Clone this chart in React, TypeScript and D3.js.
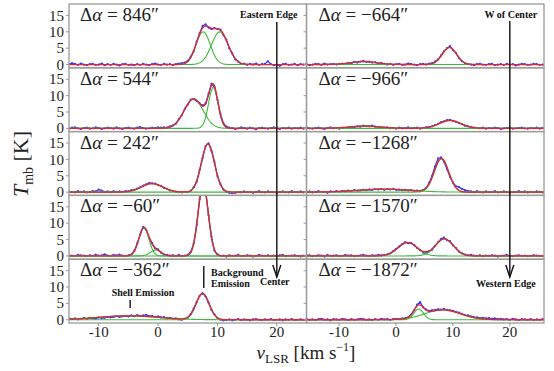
import React, { useEffect } from 'react'
import * as d3 from 'd3'

// channel grid of the observed spectra (km/s): left column, right column
const channelStart = [-15, -15.7]
const channelStep = [0.5, 0.525]
// x limits of the two columns (km/s)
const xLimits = [[-15, 25], [-15.7, 26]]

const offsets = ['846', '544', '242', '\u221260', '\u2212362', '\u2212664', '\u2212966', '\u22121268', '\u22121570', '\u22121872']

const obs846 = [0.1, 0.4, 0.2, -0.1, 0.3, 0.0, -0.2, 0.1, 0.2, -0.1, 0.0, 0.3, -0.2, 0.1, -0.1, 0.2, 0.0, -0.3, 0.1, 0.2, -0.1, 0.0, -0.2, 0.1, -0.1, 0.2, 0.0, -0.2, 0.1, 0.3, 0.0, -0.1, 0.2, 0.0, 0.1, -0.2, 0.1, 0.3,
  0.4, 0.6, 1.1, 2.4, 4.0, 7.0, 9.6, 11.8, 12.3, 11.3, 10.8, 11.1, 10.9, 10.7, 9.0, 7.6, 5.0, 3.4, 1.6, 0.9, 0.2, 0.3,
  -0.1, 0.2, 0.0, 0.3, -0.1, 0.1, 0.2, 1.0, 0.1, -0.2, 0.0, -0.4, 0.1, 0.2, -0.1, 0.0, 0.2, -0.2, 0.1, 0.0, 0.1]
const obs544 = [-0.1, 0.2, 0.3, 0.0, -0.2, 0.1, 0.2, -0.1, 0.0, 0.3, 0.1, -0.2, 0.0, 0.2, 0.1, -0.1, 0.3, 0.0, -0.2, 0.1, 0.2, 0.0, -0.1, 0.2, 0.4, 0.1, -0.1, 0.0, 0.2, 0.1, 0.3, 0.2,
  0.3, 0.2, 0.6, 0.9, 1.4, 2.8, 4.0, 6.0, 7.2, 8.8, 8.9, 8.4, 7.6, 7.0, 7.6, 10.5, 13.6, 12.7, 8.7, 4.5, 1.6, 0.5, 0.2,
  0.1, -0.2, 0.0, 0.3, 0.1, -0.1, 0.2, 0.0, -0.3, 0.1, 0.2, 0.0, -0.1, 0.1, 0.3, 0.0, -0.2, 0.1, 0.0, 0.2, -0.1, 0.1, 0.0, 0.2, -0.1, 0.1]
const obs242 = [0.2, 0.0, -0.1, 0.3, 0.1, 0.2, -0.1, 0.0, 0.3, 0.2, 0.8, 0.5, 0.1, 0.2, 0.0, 0.3, 0.1, 0.2,
  0.1, 0.3, 0.2, 0.6, 0.7, 1.1, 1.5, 2.0, 2.4, 2.8, 2.7, 2.6, 2.1, 1.9, 1.3, 1.0, 0.5, 0.4, 0.1, 0.0, -0.1,
  0.1, 0.0, 0.4, 1.5, 3.2, 6.8, 10.4, 14.1, 14.9, 12.6, 9.2, 4.9, 2.5, 0.8, 0.1, -0.2,
  -0.3, -0.2, 0.0, -0.1, 0.2, 0.0, 0.1, -0.2, 0.1, 0.3, 0.0, -0.1, 0.2, 0.1, 0.0, -0.2, 0.1, 0.2, 0.0, -0.1, 0.3, 0.1, 0.0, 0.2, -0.1, 0.1]
const obsM60 = [0.2, 0.1, 0.0, 0.3, 0.2, 0.1, -0.1, 0.2, 0.0, 0.4, 0.1, 0.2, 0.5, 0.1, 0.0, 0.3, 0.2, 0.4, 0.1, 0.0,
  0.2, 0.5, 1.6, 3.9, 6.5, 8.8, 7.9, 5.5, 3.9, 2.3, 2.0, 1.0, 0.4, 0.3, 0.1,
  0.2, 0.0, 0.3, -0.1, 0.1,
  0.3, 1.2, 3.8, 9.4, 17.4, 21.6, 19.9, 12.4, 5.9, 1.6, 0.5, 0.0,
  0.1, -0.2, 0.2, 0.0, 0.1, 0.3, -0.1, 0.0, 0.2, 0.1, -0.2, 0.0, 0.3, 0.1, 0.0, 0.2, -0.1, 0.1, 0.0, 0.2, 0.3, -0.1, 0.0, 0.1, 0.2, 0.0, -0.2, 0.1, 0.0]
const obsM362 = [0.5, 0.2, 0.4, 0.1, 0.3, 0.5, 0.2, 0.6, 0.4, 0.3, 0.7, 0.5, 0.6, 0.9, 0.7, 0.8, 1.1, 0.8, 1.0, 1.2, 1.0, 1.3, 1.1, 1.4, 1.2, 1.3, 1.5, 1.1, 1.2, 0.9, 1.0, 0.7, 0.8, 0.5, 0.6, 0.3, 0.4, 0.1,
  0.0, 0.3, 0.6, 1.7, 3.4, 5.4, 7.3, 8.1, 7.1, 5.2, 3.0, 1.6, 0.5, 0.0, -0.2,
  -0.1, 0.1, -0.2, 0.0, 0.2, -0.1, 0.1, 0.0, -0.2, 0.1, 0.2, 0.0, -0.1, 0.1, 0.0, 0.2, -0.1, 0.0, 0.1, -0.2, 0.1, 0.0, 0.2, -0.1, 0.0, 0.1, 0.0, 0.1]
const obsM664 = [0.1, -0.2, 0.0, 0.2, 0.1, -0.1, 0.3, 0.0, 0.1, 0.2,
  0.0, 0.2, 0.3, 0.1, 0.5, 0.4, 0.8, 0.6, 0.9, 1.1, 0.8, 0.9, 0.6, 0.7, 0.3, 0.5, 0.2, 0.0, 0.2, -0.1,
  0.1, 0.2, -0.1, 0.0, 0.3, 0.1, 0.0, -0.2, 0.1, 0.2, 0.0, 0.3,
  0.4, 0.9, 1.6, 2.8, 4.1, 5.0, 5.6, 4.4, 3.5, 2.0, 1.0, 0.4, 0.1, 0.0,
  -0.2, 0.1, 0.2, 0.0, -0.1, 0.1, 0.2, -0.2, 0.0, 0.1, -0.1, 0.2, 0.0, 0.1, -0.3, 0.0, 0.2, 0.1, -0.1, 0.0, 0.2, 0.1, -0.1, 0.0, 0.1]
const obsM966 = [0.2, 0.0, -0.1, 0.1, 0.2, 0.0, -0.2, 0.1, 0.3, 0.0, 0.1, -0.1,
  0.2, 0.1, 0.3, 0.4, 0.3, 0.6, 0.5, 0.8, 0.7, 0.6, 0.8, 0.5, 0.4, 0.3, 0.2, 0.3, 0.0,
  0.1, -0.1, 0.2, 0.0, 0.1, 0.3, 0.0, 0.1, 0.2, -0.1, 0.1,
  0.3, 0.4, 0.6, 1.0, 1.4, 1.9, 2.1, 2.5, 2.6, 2.3, 2.0, 1.6, 1.3, 0.8, 0.6, 0.4, 0.2,
  0.1, 0.0, 0.2, -0.1, 0.1, 0.0, 0.2, 0.1, -0.2, 0.0, 0.1, 0.2, -0.1, 0.0, 0.1, 0.2, 0.0, -0.1, 0.1, 0.0, 0.2, -0.1, 0.1, 0.0]
const obsM1268 = [0.0, 0.2, -0.1, 0.1, 0.3, 0.0, 0.1, -0.2, 0.2, 0.1,
  0.3, 0.1, 0.4, 0.2, 0.5, 0.3, 0.6, 0.4, 0.5, 0.7, 0.6, 0.8, 0.7, 0.9, 0.8, 1.0, 0.7, 0.9, 0.8, 1.0, 0.7, 0.8, 0.6, 0.7, 0.5, 0.6, 0.4, 0.5, 0.3,
  0.6, 1.2, 2.8, 5.0, 7.9, 10.3, 10.6, 9.3, 7.0, 4.6, 2.9, 1.8, 1.5, 1.0, 0.6, 0.4,
  0.2, 0.0, 0.3, 0.1, -0.1, 0.2, 0.0, 0.1, 0.3, -0.1, 0.0, 0.2, 0.1, -0.2, 0.0, 0.1, 0.3, 0.0, 0.2, -0.1, 0.1, 0.0, 0.2, 0.1, -0.1, 0.3]
const obsM1570 = [0.1, 0.2, -0.1, 0.0, 0.2, 0.1, -0.2, 0.3, 0.0, 0.1, 0.2, -0.1, 0.0, 0.3, 0.1, 0.2, -0.1, 0.0, 0.2, 0.3, 0.1, 0.0, 0.2, 0.1, 0.3, 0.2,
  0.3, 0.5, 0.8, 1.5, 2.2, 2.9, 3.6, 4.2, 3.9, 4.0, 3.3, 2.4, 1.8, 1.0, 0.8, 1.4, 1.9, 3.1, 4.2, 5.2, 5.6, 4.8, 4.5, 3.2, 2.4, 1.3, 0.8, 0.4, 0.2, 0.3, 0.1,
  0.0, 0.2, -0.1, 0.1, 0.0, 0.2, 0.1, -0.2, 0.0, 0.1, 0.3, 0.0, -0.1, 0.1, 0.2, 0.0, 0.1, -0.1, 0.0, 0.2, 0.1, 0.0, -0.1, 0.1]
const obsM1872 = [0.2, 0.0, 0.1, -0.1, 0.2, 0.3, 0.0, 0.1, -0.2, 0.2, 0.1, 0.0, 0.3, 0.1, -0.1, 0.2, 0.0, 0.1, 0.3, 0.2, 0.0, 0.1, -0.1, 0.2, 0.0, 0.3, 0.1, 0.2, 0.0, 0.2,
  0.3, 0.2, 0.4, 0.5, 0.7, 1.6, 2.9, 4.6, 5.4, 3.8, 3.1, 2.7, 2.9, 3.0, 3.2, 3.1, 3.3, 3.0, 2.9, 2.7, 2.4, 2.2, 1.8, 1.4, 1.3, 1.0, 0.8, 0.7, 0.5, 0.6, 0.4, 0.5, 0.3, 0.4, 0.2,
  0.3, 0.1, 0.2, 0.0, 0.3, 0.1, -0.1, 0.2, 0.1, 0.0, 0.2, -0.1, 0.1, 0.0, 0.2, 0.1]

// Gaussian fit components: [amplitude K, centre km/s, sigma km/s]
const comp846 = [[10, 7.6, 1.2], [10, 10.4, 1.4]]
const comp544 = [[9, 6.0, 1.6], [12.5, 9.3, 0.8]]
const comp242 = [[2.6, -1.0, 1.8], [14.8, 8.4, 1.1]]
const compM60 = [[8.6, -2.4, 0.85], [1.8, -0.4, 0.9], [22, 7.6, 0.85]]
const compM362 = [[1.2, -5, 5], [8, 7.5, 1.1]]
const compM664 = [[0.9, -5.7, 2.3], [5.2, 9.4, 1.26]]
const compM966 = [[0.7, -5.5, 2.6], [2.4, 9.5, 1.9]]
const compM1268 = [[0.9, -2.1, 4.7], [10.2, 8.0, 1.26]]
const compM1570 = [[4.1, 2.05, 1.68], [5.2, 8.5, 1.58]]
const compM1872 = [[3.3, 4.0, 0.84], [3.0, 8.2, 3.15]]

const spectra = [obs846, obs544, obs242, obsM60, obsM362, obsM664, obsM966, obsM1268, obsM1570, obsM1872]
const components = [comp846, comp544, comp242, compM60, compM362, compM664, compM966, compM1268, compM1570, compM1872]

const xTicks = [-10, 0, 10, 20]
const yTicks = [0, 5, 10, 15]

const W = 554
const H = 371
const left = 69
const top = 4
const colW = 237.5
const rowH = 63.8

const serif = "'Liberation Serif', 'DejaVu Serif', serif"
const frame = '#9a9a9a'

const gauss = (v: number, c: number[]) => c[0] * Math.exp(-((v - c[1]) ** 2) / (2 * c[2] * c[2]))

export default function App() {
  useEffect(() => {
    document.body.style.margin = '0'
  }, [])

  const xs = xLimits.map(d => d3.scaleLinear().domain(d).range([0, colW]))
  const y = d3.scaleLinear().domain([-1, 18.5]).range([rowH, 0])

  const panels = spectra.map((obs, p) => {
    const col = p < 5 ? 0 : 1
    const row = p % 5
    const x = xs[col]
    const line = d3.line<[number, number]>().x(d => x(d[0])).y(d => y(d[1]))
    const fine = d3.range(xLimits[col][0], xLimits[col][1] + 0.001, 0.1)
    const px = left + col * colW
    const py = top + row * rowH
    const pts = obs.map((t, i) => [channelStart[col] + i * channelStep[col], t] as [number, number])
    const comps = components[p]
    const greens = comps.map(c => fine.map(v => [v, gauss(v, c)] as [number, number]))
    const fit = fine.map(v => [v, d3.sum(comps, c => gauss(v, c))] as [number, number])
    return (
      <g key={p} transform={`translate(${px},${py})`}>
        <clipPath id={`clip${p}`}>
          <rect x={0} y={0} width={colW} height={rowH} />
        </clipPath>
        <g clipPath={`url(#clip${p})`}>
          <path d={line(pts) || ''} fill="none" stroke="#3b3bff" strokeWidth={1.3} />
          {pts.map((d, i) => (
            <circle key={i} cx={x(d[0])} cy={y(d[1])} r={1.1} fill="#3b3bff" />
          ))}
          {greens.map((g, i) => (
            <path key={i} d={line(g) || ''} fill="none" stroke="#3cba3c" strokeWidth={1.1} />
          ))}
          <path d={line(fit) || ''} fill="none" stroke="#e3262e" strokeWidth={1.3} />
        </g>
        <rect x={0} y={0} width={colW} height={rowH} fill="none" stroke={frame} strokeWidth={1.3} />
        {yTicks.map(t => (
          <g key={t}>
            <line x1={-3} x2={0} y1={y(t)} y2={y(t)} stroke={frame} strokeWidth={1} />
            {col === 0 && (
              <text x={-5} y={y(t)} dy="0.34em" textAnchor="end" fontFamily={serif} fontSize={15} fill="#222">{t}</text>
            )}
          </g>
        ))}
        {row === 4 && xTicks.map(t => (
          <g key={t}>
            <line x1={x(t)} x2={x(t)} y1={rowH} y2={rowH + 3} stroke={frame} strokeWidth={1} />
            <text x={x(t)} y={rowH + 14} textAnchor="middle" fontFamily={serif} fontSize={15} fill="#222">{t}</text>
          </g>
        ))}
        <text x={col === 0 ? 11 : 12} y={17} fontFamily={serif} fontSize={19} fill="#222">
          {'\u0394'}<tspan fontStyle="italic">{'\u03b1'}</tspan>{' = '}{offsets[p]}{'\u2033'}
        </text>
      </g>
    )
  })

  const xL = (v: number) => left + xs[0](v)
  const xR = (v: number) => left + colW + xs[1](v)
  const bold = { fontFamily: serif, fontSize: 10, fontWeight: 700, fill: '#111' } as const

  return (
    <svg width={W} height={H} style={{ display: 'block', background: '#fff' }}>
      {panels}

      {/* arrows across the stack */}
      <g stroke="#111" strokeWidth={1.4} fill="none">
        <line x1={xL(20)} x2={xL(20)} y1={22} y2={277} />
        <polyline points={`${xL(20) - 4},265 ${xL(20)},277 ${xL(20) + 4},265`} />
        <line x1={xR(20)} x2={xR(20)} y1={21} y2={277} />
        <polyline points={`${xR(20) - 4},265 ${xR(20)},277 ${xR(20) + 4},265`} />
        <line x1={xL(7.7)} x2={xL(7.7)} y1={266} y2={288} />
        <line x1={xL(-4.7)} x2={xL(-4.7)} y1={300} y2={308} />
      </g>
      <text x={xL(20) - 8} y={18} textAnchor="middle" {...bold}>Eastern  Edge</text>
      <text x={xL(20) - 2} y={285} textAnchor="middle" {...bold}>Center</text>
      <text x={xR(20) + 1} y={18} textAnchor="middle" {...bold}>W of  Center</text>
      <text x={xR(20) - 4} y={287} textAnchor="middle" {...bold}>Western Edge</text>
      <text x={211} y={276} {...bold}>Background</text>
      <text x={211} y={287} {...bold}>Emission</text>
      <text x={143} y={296} textAnchor="middle" {...bold}>Shell Emission</text>

      {/* axis labels */}
      <text transform="translate(28,164) rotate(-90)" textAnchor="middle" fontFamily={serif} fontSize={22} fill="#222">
        <tspan fontStyle="italic">T</tspan>
        <tspan fontSize={14} dy={5}>mb</tspan>
        <tspan dy={-5}> [K]</tspan>
      </text>
      <text x={306} y={359} textAnchor="middle" fontFamily={serif} fontSize={19} fill="#222">
        <tspan fontStyle="italic">v</tspan>
        <tspan fontSize={13} dy={4}>LSR</tspan>
        <tspan dy={-4}> [km s</tspan>
        <tspan fontSize={12} dy={-8}>{'\u22121'}</tspan>
        <tspan dy={8}>]</tspan>
      </text>
    </svg>
  )
}
